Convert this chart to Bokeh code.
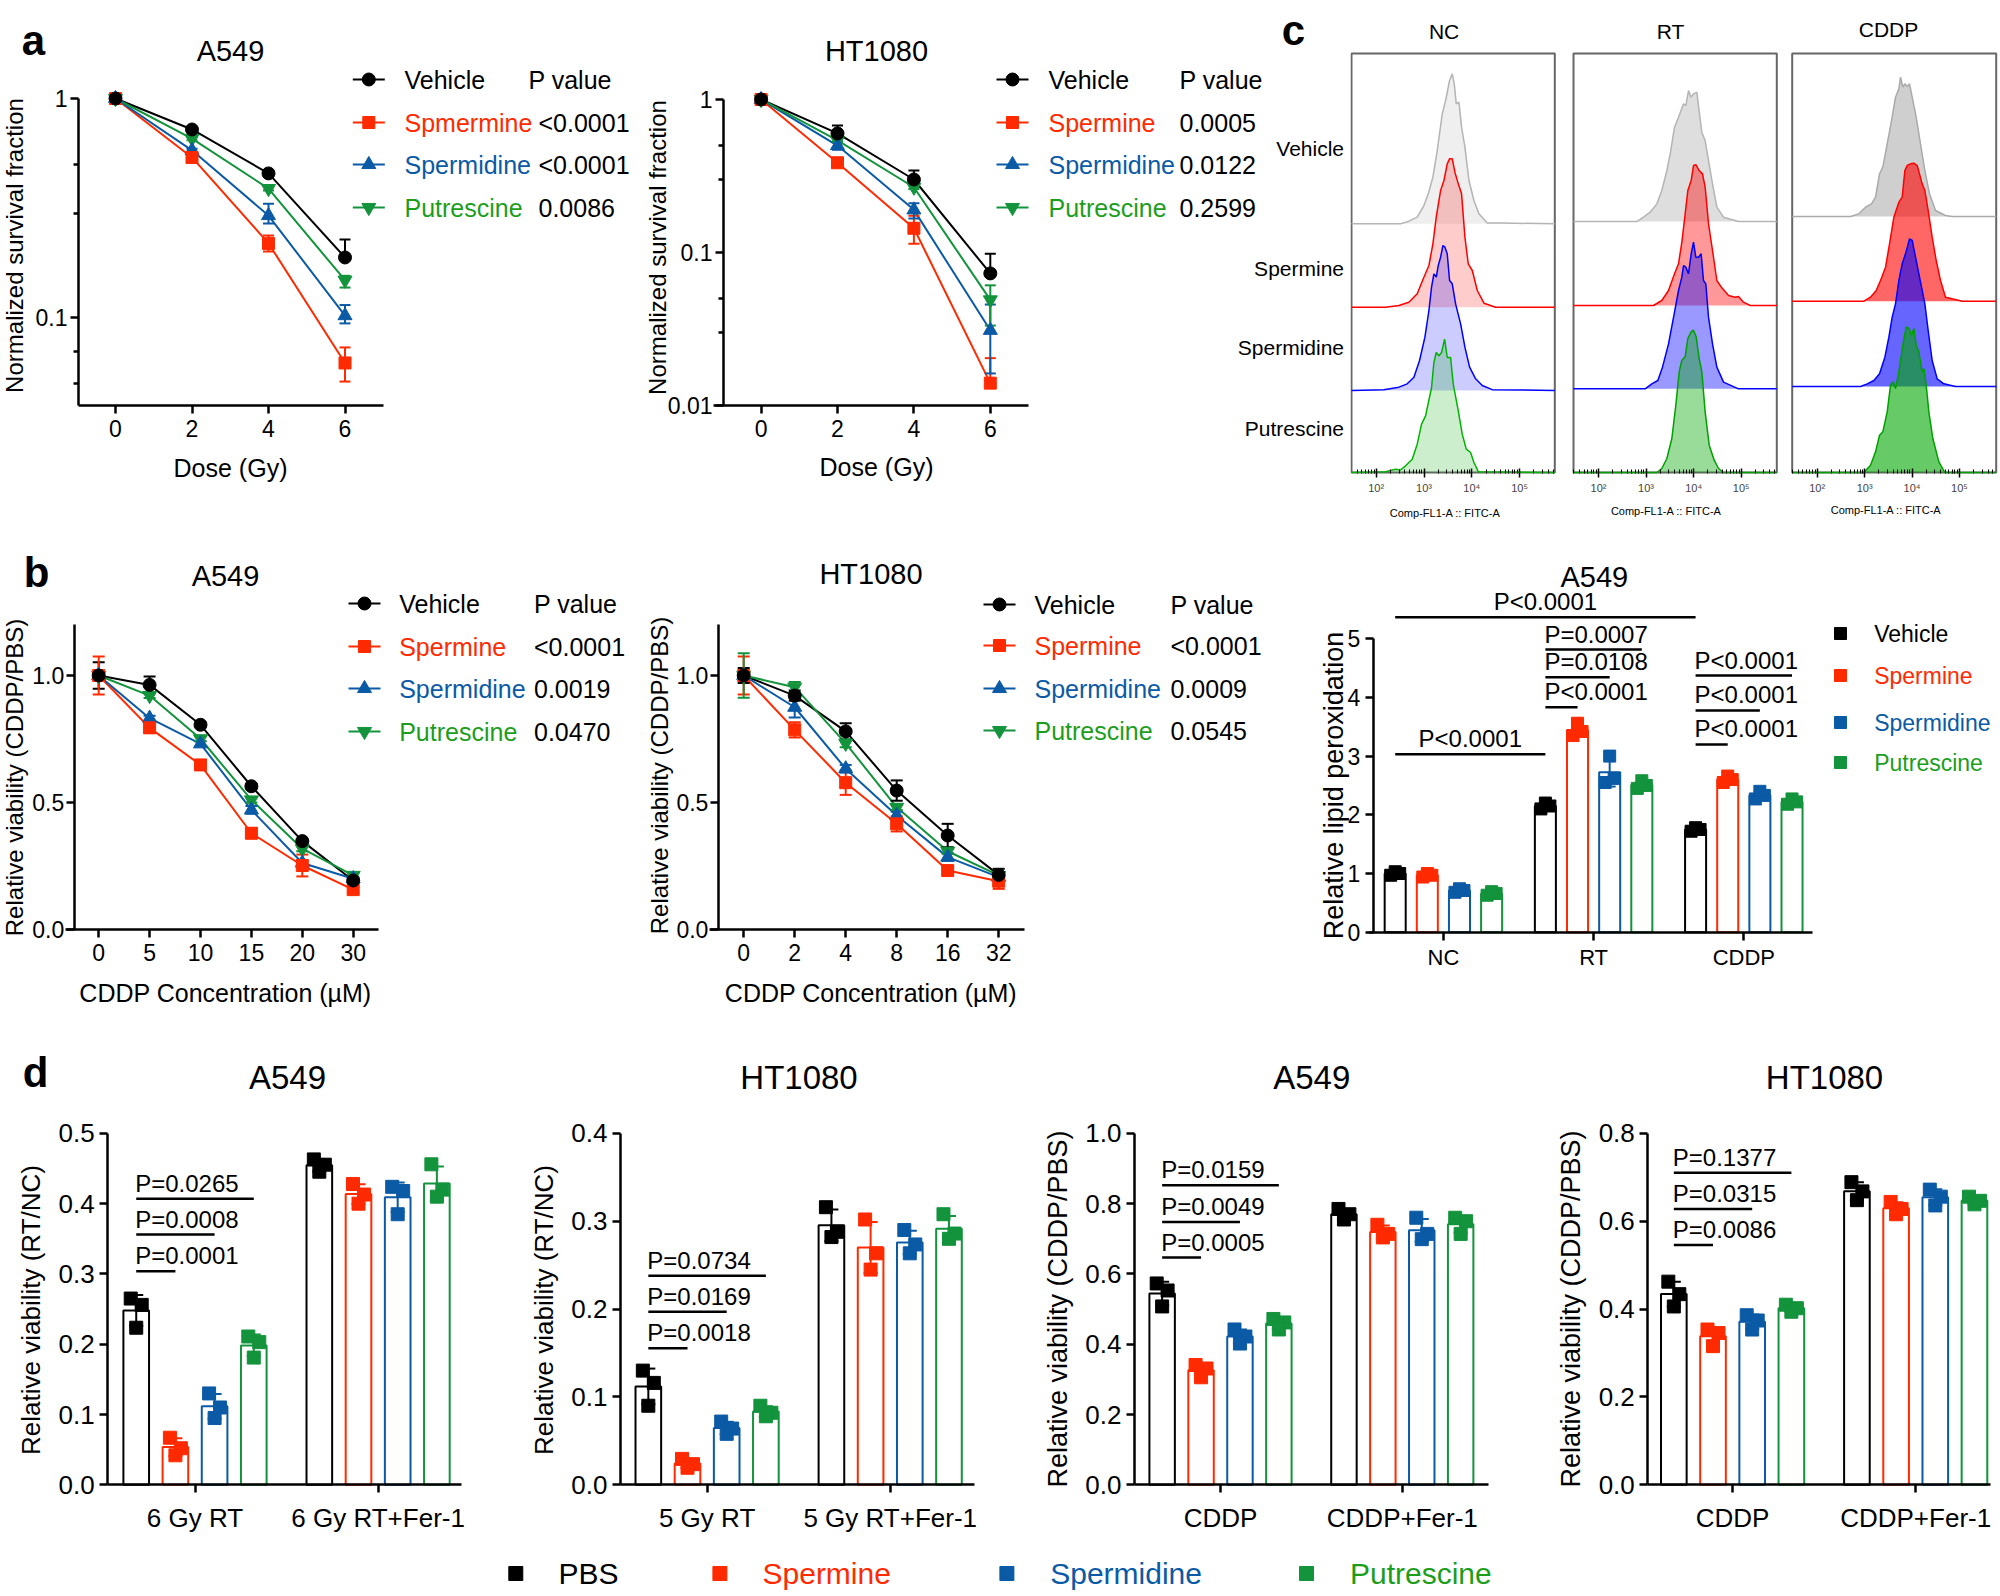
import math
import numpy as np
from bokeh.plotting import figure
from bokeh.layouts import row, column
from bokeh.models import Range1d, FixedTicker, CustomJSTickFormatter, NumeralTickFormatter
from bokeh.core.properties import value
from bokeh.embed import file_html
from bokeh.resources import INLINE

FONT = "Liberation Sans"
BLACK = "#000000"
RED = "#ff2a00"
BLUE = "#0b5aa5"
GREEN = "#12933c"
GREEN_TXT = "#1c9e1c"
COLORS = [BLACK, RED, BLUE, GREEN]
TXT_COLORS = [BLACK, RED, BLUE, GREEN_TXT]
MARKERS = ["circle", "square", "triangle", "inverted_triangle"]
MSIZES = [13, 12, 14, 14]

# ======================= DATA =======================
# ---- panel a : normalized survival fraction (log scale)
dose_gy = [0, 2, 4, 6]
a549_sf_vehicle = [1.0, 0.722, 0.455, 0.188]
a549_sf_vehicle_hi = [1.0, 0.735, 0.465, 0.227]
a549_sf_vehicle_lo = [1.0, 0.722, 0.455, 0.188]
a549_sf_spermine = [1.0, 0.538, 0.218, 0.062]
a549_sf_spermine_hi = [1.0, 0.550, 0.237, 0.073]
a549_sf_spermine_lo = [1.0, 0.525, 0.200, 0.051]
a549_sf_spermidine = [1.0, 0.580, 0.292, 0.102]
a549_sf_spermidine_hi = [1.0, 0.590, 0.331, 0.114]
a549_sf_spermidine_lo = [1.0, 0.570, 0.269, 0.094]
a549_sf_putrescine = [1.0, 0.656, 0.388, 0.148]
a549_sf_putrescine_hi = [1.0, 0.665, 0.395, 0.155]
a549_sf_putrescine_lo = [1.0, 0.645, 0.380, 0.137]
a549_sf_names = ["Vehicle", "Spmermine", "Spermidine", "Putrescine"]
a549_sf_p = ["<0.0001", "<0.0001", "0.0086"]

ht1080_sf_vehicle = [1.0, 0.600, 0.300, 0.073]
ht1080_sf_vehicle_hi = [1.03, 0.676, 0.343, 0.098]
ht1080_sf_vehicle_lo = [0.97, 0.600, 0.300, 0.073]
ht1080_sf_spermine = [1.0, 0.386, 0.144, 0.014]
ht1080_sf_spermine_hi = [1.03, 0.400, 0.174, 0.0204]
ht1080_sf_spermine_lo = [0.97, 0.370, 0.114, 0.0135]
ht1080_sf_spermidine = [1.0, 0.500, 0.190, 0.031]
ht1080_sf_spermidine_hi = [1.0, 0.530, 0.210, 0.0457]
ht1080_sf_spermidine_lo = [1.0, 0.470, 0.167, 0.0162]
ht1080_sf_putrescine = [1.0, 0.540, 0.267, 0.049]
ht1080_sf_putrescine_hi = [1.0, 0.550, 0.275, 0.061]
ht1080_sf_putrescine_lo = [0.96, 0.530, 0.260, 0.0333]
ht1080_sf_names = ["Vehicle", "Spermine", "Spermidine", "Putrescine"]
ht1080_sf_p = ["0.0005", "0.0122", "0.2599"]

# ---- panel b : relative viability vs CDDP concentration
cddp_a549_labels = ["0", "5", "10", "15", "20", "30"]
cddp_ht1080_labels = ["0", "2", "4", "8", "16", "32"]
b_a549_vehicle = [1.0, 0.963, 0.806, 0.564, 0.348, 0.193]
b_a549_vehicle_sd = [0.052, 0.033, 0.010, 0.010, 0.008, 0.008]
b_a549_spermine = [1.0, 0.794, 0.648, 0.379, 0.252, 0.157]
b_a549_spermine_sd = [0.075, 0.020, 0.015, 0.020, 0.043, 0.010]
b_a549_spermidine = [1.0, 0.832, 0.731, 0.471, 0.262, 0.200]
b_a549_spermidine_sd = [0.0, 0.010, 0.010, 0.015, 0.010, 0.008]
b_a549_putrescine = [1.0, 0.921, 0.751, 0.510, 0.318, 0.213]
b_a549_putrescine_sd = [0.0, 0.010, 0.010, 0.010, 0.010, 0.008]
b_a549_p = ["<0.0001", "0.0019", "0.0470"]

b_ht1080_vehicle = [1.0, 0.921, 0.780, 0.547, 0.370, 0.215]
b_ht1080_vehicle_sd = [0.030, 0.020, 0.032, 0.040, 0.046, 0.024]
b_ht1080_spermine = [1.0, 0.786, 0.578, 0.416, 0.232, 0.190]
b_ht1080_spermine_sd = [0.075, 0.030, 0.048, 0.030, 0.015, 0.030]
b_ht1080_spermidine = [1.0, 0.875, 0.633, 0.449, 0.285, 0.206]
b_ht1080_spermidine_sd = [0.0, 0.040, 0.015, 0.015, 0.015, 0.010]
b_ht1080_putrescine = [1.0, 0.954, 0.733, 0.481, 0.308, 0.213]
b_ht1080_putrescine_sd = [0.088, 0.020, 0.015, 0.010, 0.010, 0.010]
b_ht1080_p = ["<0.0001", "0.0009", "0.0545"]
b_names = ["Vehicle", "Spermine", "Spermidine", "Putrescine"]

# ---- lipid peroxidation (A549), three replicates per bar
lipid_groups = ["NC", "RT", "CDDP"]
lipid_vehicle = [[0.97, 1.00, 1.03], [2.10, 2.15, 2.20], [1.72, 1.75, 1.78]]
lipid_spermine = [[0.94, 0.97, 1.00], [3.35, 3.42, 3.56], [2.55, 2.60, 2.66]]
lipid_spermidine = [[0.68, 0.71, 0.74], [2.55, 2.62, 3.00], [2.27, 2.33, 2.40]]
lipid_putrescine = [[0.63, 0.66, 0.69], [2.45, 2.50, 2.58], [2.18, 2.22, 2.27]]
lipid_names = ["Vehicle", "Spermine", "Spermidine", "Putrescine"]
# (label, (group, bar) from, (group, bar) to, line level, text placement)
lipid_sig = [
    ("P<0.0001", (0, 0), (2, 0), 5.366, "center"),
    ("P<0.0001", (0, 0), (1, 0), 3.032, "center"),
    ("P=0.0007", (1, 0), (1, 3), 4.816, "left"),
    ("P=0.0108", (1, 0), (1, 2), 4.344, "left"),
    ("P<0.0001", (1, 0), (1, 1), 3.833, "left"),
    ("P<0.0001", (2, 0), (2, 3), 4.373, "left"),
    ("P<0.0001", (2, 0), (2, 2), 3.777, "left"),
    ("P<0.0001", (2, 0), (2, 1), 3.198, "left"),
]

# ---- panel c : flow cytometry histograms (log10 FITC, height in row units)
nc_vehicle_x = [2.51, 2.684, 2.858, 2.998, 3.089, 3.186, 3.277, 3.382, 3.452, 3.535, 3.591, 3.633, 3.675, 3.731, 3.786, 3.856, 3.94, 4.045, 4.149, 4.324, 4.638]
nc_vehicle_h = [0, 0.032, 0.08, 0.22, 0.36, 0.56, 0.88, 1.32, 1.48, 1.72, 1.80, 1.68, 1.44, 1.46, 1.16, 0.92, 0.52, 0.28, 0.12, 0.01, 0.01]
nc_spermine_x = [2.195, 2.475, 2.684, 2.858, 2.998, 3.103, 3.186, 3.256, 3.347, 3.417, 3.486, 3.535, 3.591, 3.647, 3.717, 3.786, 3.856, 3.926, 4.010, 4.115, 4.254, 4.498]
nc_spermine_h = [0, 0.02, 0.06, 0.16, 0.36, 0.5, 0.76, 1.08, 1.40, 1.52, 1.72, 1.78, 1.78, 1.62, 1.48, 1.36, 0.84, 0.52, 0.44, 0.2, 0.048, 0]
nc_spermidine_x = [2.16, 2.475, 2.649, 2.789, 2.907, 3.019, 3.103, 3.158, 3.207, 3.256, 3.298, 3.347, 3.396, 3.438, 3.486, 3.535, 3.591, 3.661, 3.766, 3.856, 3.954, 4.08, 4.219, 4.428]
nc_spermidine_h = [0.01, 0.04, 0.08, 0.16, 0.36, 0.64, 0.96, 1.24, 1.40, 1.36, 1.50, 1.60, 1.74, 1.72, 1.64, 1.32, 1.28, 1.04, 0.8, 0.52, 0.28, 0.14, 0.06, 0.01]
nc_putrescine_x = [2.195, 2.405, 2.51, 2.614, 2.754, 2.858, 2.949, 3.033, 3.158, 3.207, 3.256, 3.312, 3.368, 3.431, 3.486, 3.556, 3.612, 3.717, 3.800, 3.884, 3.975, 4.045, 4.135]
nc_putrescine_h = [0.01, 0.04, 0.03, 0.08, 0.16, 0.34, 0.58, 0.68, 1.02, 1.32, 1.44, 1.40, 1.44, 1.60, 1.38, 1.38, 1.06, 0.74, 0.46, 0.28, 0.24, 0.12, 0.01]

rt_vehicle_x = [2.806, 2.946, 3.086, 3.226, 3.331, 3.437, 3.507, 3.598, 3.682, 3.787, 3.836, 3.892, 3.948, 3.997, 4.067, 4.123, 4.172, 4.242, 4.313, 4.397, 4.488, 4.628, 4.943]
rt_vehicle_h = [0, 0.052, 0.112, 0.212, 0.372, 0.612, 0.812, 1.132, 1.252, 1.412, 1.392, 1.572, 1.492, 1.532, 1.552, 1.292, 1.072, 0.972, 0.732, 0.452, 0.172, 0.052, 0]
rt_spermine_x = [3.156, 3.331, 3.472, 3.598, 3.682, 3.752, 3.822, 3.878, 3.948, 3.997, 4.046, 4.116, 4.186, 4.242, 4.313, 4.397, 4.488, 4.593, 4.733, 4.873, 4.943, 5.048, 5.189]
rt_spermine_h = [0, 0.06, 0.18, 0.38, 0.5, 0.76, 1.10, 1.38, 1.50, 1.68, 1.69, 1.62, 1.58, 1.42, 0.98, 0.66, 0.30, 0.212, 0.12, 0.10, 0.108, 0.04, 0]
rt_spermidine_x = [2.981, 3.121, 3.247, 3.345, 3.472, 3.598, 3.682, 3.752, 3.787, 3.836, 3.892, 3.948, 3.997, 4.046, 4.102, 4.158, 4.207, 4.256, 4.313, 4.397, 4.488, 4.628, 4.943]
rt_spermidine_h = [0, 0.06, 0.10, 0.26, 0.54, 0.92, 1.18, 1.34, 1.48, 1.46, 1.38, 1.62, 1.76, 1.58, 1.58, 1.62, 1.30, 1.26, 0.86, 0.54, 0.26, 0.08, 0]
rt_putrescine_x = [3.226, 3.331, 3.437, 3.542, 3.626, 3.696, 3.752, 3.822, 3.878, 3.948, 3.997, 4.053, 4.116, 4.172, 4.242, 4.327, 4.432, 4.523, 4.628]
rt_putrescine_h = [0, 0.048, 0.168, 0.408, 0.808, 1.208, 1.348, 1.388, 1.608, 1.688, 1.708, 1.628, 1.368, 1.208, 0.728, 0.328, 0.148, 0.048, 0]

cddp_vehicle_x = [2.703, 2.878, 3.019, 3.145, 3.23, 3.314, 3.384, 3.476, 3.567, 3.651, 3.722, 3.757, 3.806, 3.848, 3.897, 3.947, 4.003, 4.087, 4.178, 4.27, 4.368, 4.495, 4.705, 4.846]
cddp_vehicle_h = [0, 0.032, 0.112, 0.152, 0.232, 0.512, 0.592, 0.872, 1.152, 1.432, 1.532, 1.672, 1.552, 1.592, 1.56, 1.592, 1.432, 1.192, 0.872, 0.552, 0.272, 0.072, 0.012, 0]
cddp_spermine_x = [2.984, 3.124, 3.244, 3.335, 3.441, 3.525, 3.616, 3.722, 3.792, 3.848, 3.897, 3.968, 4.038, 4.108, 4.157, 4.213, 4.27, 4.34, 4.424, 4.509, 4.6, 4.705, 4.846, 5.057]
cddp_spermine_h = [0, 0.048, 0.128, 0.248, 0.408, 0.688, 1.008, 1.188, 1.248, 1.568, 1.628, 1.648, 1.656, 1.628, 1.528, 1.408, 1.328, 1.088, 0.768, 0.488, 0.248, 0.048, 0.028, 0]
cddp_spermidine_x = [2.914, 3.054, 3.195, 3.314, 3.427, 3.511, 3.581, 3.651, 3.722, 3.792, 3.862, 3.947, 4.003, 4.059, 4.129, 4.2, 4.27, 4.34, 4.424, 4.53, 4.671, 4.916]
cddp_spermidine_h = [0, 0.032, 0.072, 0.152, 0.352, 0.592, 0.832, 0.992, 1.272, 1.472, 1.592, 1.772, 1.752, 1.592, 1.392, 1.192, 0.992, 0.672, 0.312, 0.092, 0.032, 0]
cddp_putrescine_x = [2.984, 3.124, 3.23, 3.314, 3.384, 3.476, 3.546, 3.595, 3.651, 3.722, 3.806, 3.876, 3.933, 3.989, 4.038, 4.087, 4.143, 4.213, 4.249, 4.298, 4.354, 4.438, 4.565, 4.691]
cddp_putrescine_h = [0, 0.088, 0.248, 0.448, 0.488, 0.728, 1.048, 1.088, 1.008, 1.208, 1.528, 1.748, 1.728, 1.648, 1.728, 1.528, 1.448, 1.208, 1.248, 1.048, 0.728, 0.408, 0.128, 0]
hist_row_labels = ["Vehicle", "Spermine", "Spermidine", "Putrescine"]
decade_labels = {2: "10²", 3: "10³", 4: "10⁴", 5: "10⁵"}

# ---- panel d : relative viability bars (3 replicates per bar)
d1_groups = ["6 Gy RT", "6 Gy RT+Fer-1"]
d1_pbs = [[0.265, 0.256, 0.2235], [0.463, 0.4555, 0.4455]]
d1_spermine = [[0.067, 0.052, 0.042], [0.428, 0.413, 0.400]]
d1_spermidine = [[0.130, 0.110, 0.095], [0.424, 0.418, 0.385]]
d1_putrescine = [[0.211, 0.203, 0.181], [0.456, 0.420, 0.410]]
d1_sig = [("P=0.0265", 3, 0.407), ("P=0.0008", 2, 0.356), ("P=0.0001", 1, 0.304)]

d2_groups = ["5 Gy RT", "5 Gy RT+Fer-1"]
d2_pbs = [[0.130, 0.116, 0.090], [0.316, 0.288, 0.282]]
d2_spermine = [[0.0295, 0.0235, 0.0194], [0.302, 0.2635, 0.245]]
d2_spermidine = [[0.072, 0.064, 0.058], [0.290, 0.2736, 0.2635]]
d2_putrescine = [[0.090, 0.082, 0.078], [0.308, 0.286, 0.280]]
d2_sig = [("P=0.0734", 3, 0.238), ("P=0.0169", 2, 0.197), ("P=0.0018", 1, 0.1554)]

d3_groups = ["CDDP", "CDDP+Fer-1"]
d3_pbs = [[0.573, 0.553, 0.5076], [0.785, 0.770, 0.755]]
d3_spermine = [[0.341, 0.331, 0.306], [0.740, 0.714, 0.704]]
d3_spermidine = [[0.442, 0.422, 0.402], [0.760, 0.714, 0.699]]
d3_putrescine = [[0.472, 0.462, 0.442], [0.760, 0.750, 0.714]]
d3_sig = [("P=0.0159", 3, 0.8527), ("P=0.0049", 2, 0.7476), ("P=0.0005", 1, 0.6468)]

d4_groups = ["CDDP", "CDDP+Fer-1"]
d4_pbs = [[0.4625, 0.434, 0.406], [0.689, 0.668, 0.648]]
d4_spermine = [[0.3535, 0.3455, 0.3157], [0.644, 0.628, 0.616]]
d4_spermidine = [[0.386, 0.374, 0.3535], [0.672, 0.656, 0.636]]
d4_putrescine = [[0.410, 0.402, 0.394], [0.656, 0.6465, 0.6385]]
d4_sig = [("P=0.1377", 3, 0.7104), ("P=0.0315", 2, 0.628), ("P=0.0086", 1, 0.5458)]
d_legend_names = ["PBS", "Spermine", "Spermidine", "Putrescine"]

# bar layout (style)
BAR_OFF = [-0.321, -0.107, 0.107, 0.321]
BAR_W = 0.14
JITTER = [-0.03, 0.03, 0.0]


# ======================= HELPERS =======================
def clean(p):
    p.grid.visible = False
    p.outline_line_color = None
    p.background_fill_color = "white"
    p.border_fill_color = "white"


def full_fig(W, H, xr, yr, ylog=False, yaxis=True):
    kw = {} if yaxis else {"y_axis_location": None}
    p = figure(width=W, height=H, x_range=xr, y_range=yr, title=None,
               y_axis_type="log" if ylog else "linear",
               output_backend="svg", toolbar_location=None,
               min_border_left=0, min_border_right=0, min_border_top=0, min_border_bottom=0, **kw)
    clean(p)
    return p


def style_axis(ax, size, standoff=4, lw=2.5, tick_out=8):
    ax.axis_line_color = "black"
    ax.axis_line_width = lw
    ax.major_tick_line_color = "black"
    ax.major_tick_line_width = lw
    ax.major_tick_in = 0
    ax.major_tick_out = tick_out
    ax.minor_tick_line_color = None
    ax.major_label_text_font = FONT
    ax.major_label_text_font_size = size
    ax.major_label_text_color = "black"
    ax.major_label_standoff = standoff


def put_text(p, x, y, s, size, color=BLACK, align="left", baseline="middle", bold=False, angle=0.0):
    p.text(x=[x], y=[y], text=[s], text_font=value(FONT), text_font_size=value(size),
           text_color=color, text_align=align, text_baseline=baseline, angle=angle,
           text_font_style="bold" if bold else "normal")


def err_bars(p, xs, lo, hi, color, cap, lw=2):
    p.segment(x0=xs, y0=lo, x1=xs, y1=hi, line_color=color, line_width=lw)
    p.segment(x0=[x - cap for x in xs], y0=hi, x1=[x + cap for x in xs], y1=hi, line_color=color, line_width=lw)
    p.segment(x0=[x - cap for x in xs], y0=lo, x1=[x + cap for x in xs], y1=lo, line_color=color, line_width=lw)


def mappers(cfg, ylog=False):
    x0, kx = cfg["xmap"]
    y0, ky = cfg["ymap"]
    fx = lambda px: (px - x0) / kx
    if ylog:
        fy = lambda py: 10 ** ((y0 - py) / ky)
    else:
        fy = lambda py: (y0 - py) / ky
    return fx, fy, kx, ky


def common_texts(p, cfg, fx, fy):
    tx0, ty0 = cfg["title_xy"]
    put_text(p, fx(tx0), fy(ty0), cfg["title"], cfg.get("title_size", "29px"), align="center")
    if cfg.get("xlabel"):
        lx, ly = cfg["xlabel_xy"]
        put_text(p, fx(lx), fy(ly), cfg["xlabel"], "25px", align="center")
    vx, vy = cfg["ylabel_xy"]
    put_text(p, fx(vx), fy(vy), cfg["ylabel"], cfg.get("ylabel_size", "24px"), align="center",
             angle=math.pi / 2)
    if cfg.get("letter"):
        s, (lx2, ly2) = cfg["letter"]
        put_text(p, fx(lx2), fy(ly2), s, "42px", align="center", bold=True)


def curve_panel(cfg, xs, series, names, pvals):
    fig_left, W, top, H = cfg["box"]
    ax_x, ax_y = cfg["axis_px"]
    ylog = cfg["log"]
    fx, fy, kx, ky = mappers(cfg, ylog)
    p = full_fig(W, H, Range1d(fx(fig_left), fx(fig_left + W)), Range1d(fy(top + H), fy(top)), ylog)
    style_axis(p.xaxis[0], "23px", standoff=6)
    style_axis(p.yaxis[0], "23px", standoff=cfg["ystandoff"])
    p.xaxis.fixed_location = fy(ax_y)
    p.yaxis.fixed_location = fx(ax_x)
    p.xaxis.bounds = (fx(cfg.get("xstart_px", ax_x)), cfg["xend"])
    p.yaxis.bounds = (fy(ax_y), cfg["ytop"])
    p.xaxis.ticker = FixedTicker(ticks=cfg["xticks"])
    if cfg.get("xlabels"):
        p.xaxis.major_label_overrides = {t: s for t, s in zip(cfg["xticks"], cfg["xlabels"])}
    p.yaxis.ticker = FixedTicker(ticks=cfg["yticks"], minor_ticks=cfg.get("yminor", []))
    if ylog:
        p.yaxis.formatter = CustomJSTickFormatter(code="return tick.toString();")
        p.yaxis.minor_tick_line_color = "black"
        p.yaxis.minor_tick_line_width = 2.5
        p.yaxis.minor_tick_out = 5
        p.yaxis.minor_tick_in = 0
    else:
        p.yaxis.formatter = NumeralTickFormatter(format="0.0")
    cap = cfg["cap"] / 2 / kx
    for (vals, lo, hi), c in zip(series, COLORS):
        p.line(xs, vals, line_color=c, line_width=2)
    for (vals, lo, hi), c in zip(series, COLORS):
        err_bars(p, xs, lo, hi, c, cap)
    for i in [3, 2, 1, 0]:
        p.scatter(xs, series[i][0], marker=MARKERS[i], size=MSIZES[i],
                  fill_color=COLORS[i], line_color=COLORS[i])
    # legend with P values
    mx, tx, px_, hx = cfg["leg_x"]
    for i, name in enumerate(names):
        yy = fy(cfg["leg_rows"][i])
        p.segment(x0=[fx(mx - 16)], y0=[yy], x1=[fx(mx + 16)], y1=[yy], line_color=COLORS[i], line_width=2)
        p.scatter([fx(mx)], [yy], marker=MARKERS[i], size=MSIZES[i], fill_color=COLORS[i], line_color=COLORS[i])
        put_text(p, fx(tx), yy, name, "25px", TXT_COLORS[i])
        if i > 0:
            put_text(p, fx(px_), yy, pvals[i - 1], "25px")
    put_text(p, fx(hx), fy(cfg["leg_rows"][0]), "P value", "25px")
    common_texts(p, cfg, fx, fy)
    return p, fx, fy


def bar_panel(cfg, groups, series_pts, sig):
    fig_left, W, top, H = cfg["box"]
    ax_x, ax_y = cfg["axis_px"]
    fx, fy, kx, ky = mappers(cfg)
    p = full_fig(W, H, Range1d(fx(fig_left), fx(fig_left + W)), Range1d(fy(top + H), fy(top)))
    style_axis(p.xaxis[0], cfg["xtick_size"], standoff=cfg["xstandoff"])
    style_axis(p.yaxis[0], cfg["ytick_size"], standoff=5)
    p.xaxis.fixed_location = 0
    p.yaxis.fixed_location = fx(ax_x)
    p.xaxis.bounds = (fx(cfg.get("xstart_px", ax_x)), cfg["xend"])
    p.yaxis.bounds = (0, cfg["ytop"])
    p.xaxis.ticker = FixedTicker(ticks=list(range(len(groups))))
    p.xaxis.major_label_overrides = {i: g for i, g in enumerate(groups)}
    p.yaxis.ticker = FixedTicker(ticks=cfg["yticks"])
    p.yaxis.formatter = NumeralTickFormatter(format=cfg["yfmt"])
    cap = cfg["cap"] / 2 / kx
    for s, pts in enumerate(series_pts):
        xs = [g + BAR_OFF[s] for g in range(len(pts))]
        means = [float(np.mean(v)) for v in pts]
        sds = [float(np.std(v, ddof=1)) for v in pts]
        p.vbar(x=xs, top=means, width=BAR_W, bottom=0, fill_color="white",
               line_color=COLORS[s], line_width=2)
        err_bars(p, xs, [m - d for m, d in zip(means, sds)], [m + d for m, d in zip(means, sds)],
                 COLORS[s], cap)
        jx, jy = [], []
        for g, v in enumerate(pts):
            for k, yv in enumerate(v):
                jx.append(g + BAR_OFF[s] + JITTER[k])
                jy.append(yv)
        p.scatter(jx, jy, marker="square", size=cfg["msize"], fill_color=COLORS[s], line_color=COLORS[s])
    # significance bars
    gap = 2.0 / ky
    for label, (g0, s0), (g1, s1), yl, mode in sig:
        xa = g0 + BAR_OFF[s0]
        xb = g1 + BAR_OFF[s1]
        p.segment(x0=[xa], y0=[yl], x1=[xb], y1=[yl], line_color=BLACK, line_width=2.5)
        if mode == "center":
            put_text(p, (xa + xb) / 2, yl + gap, label, cfg["sig_size"], align="center", baseline="bottom")
        else:
            put_text(p, xa - 1.0 / kx, yl + gap, label, cfg["sig_size"], align="left", baseline="bottom")
    common_texts(p, cfg, fx, fy)
    return p, fx, fy


def hist_panel(cfg, curves, offsets, lines, alphas):
    fig_left, W = cfg["fig"]
    box_l, box_r = cfg["box_x"]
    x0_px, ppd = cfg["xmap"]
    top, H = 0, 525
    box_top, base_py, unit = 53.0, 472.0, 83.33
    fx = lambda px: 2 + (px - x0_px) / ppd
    fy = lambda py: (base_py - py) / unit
    p = full_fig(W, H, Range1d(fx(fig_left), fx(fig_left + W)), Range1d(fy(top + H), fy(top)), yaxis=False)
    bl, br = fx(box_l), fx(box_r)
    p.quad(left=[bl], right=[br], bottom=[0], top=[fy(box_top)], fill_color=None,
           line_color="#666666", line_width=2)
    fills = ["#a0a0a0", "#ff0000", "#0000ff", "#00a800"]
    for (xs, hs), off, fc, lc, a in zip(curves, offsets, fills, lines, alphas):
        xx = [bl] + list(xs) + [br]
        yy = [off] + [off + h for h in hs] + [off]
        p.patch(xx, yy, fill_color=fc, fill_alpha=a, line_color=None)
        p.line(xx, yy, line_color=lc, line_width=1.5)
    ax = p.xaxis[0]
    ax.fixed_location = 0
    ax.bounds = (bl, br)
    ax.axis_line_color = None
    ax.major_tick_line_color = "black"
    ax.major_tick_line_width = 1.5
    ax.major_tick_in = 4
    ax.major_tick_out = 5
    ax.minor_tick_line_color = "black"
    ax.minor_tick_line_width = 1
    ax.minor_tick_in = 3
    ax.minor_tick_out = 1
    minor = [math.log10(k * 10 ** d) for d in range(1, 6) for k in range(2, 10)]
    minor = [m for m in minor if bl < m < br]
    ax.ticker = FixedTicker(ticks=[2, 3, 4, 5], minor_ticks=minor)
    ax.major_label_overrides = decade_labels
    ax.major_label_text_font = FONT
    ax.major_label_text_font_size = "11px"
    ax.major_label_standoff = 4
    tx, ty = cfg["title_xy"]
    put_text(p, fx(tx), fy(ty), cfg["title"], "21px", align="center")
    lx, ly = cfg["xlabel_xy"]
    put_text(p, fx(lx), fy(ly), "Comp-FL1-A :: FITC-A", "11px", align="center")
    return p


# ======================= ROW 1 =======================
cfg_a1 = dict(box=(0, 640, 0, 525), axis_px=(78.0, 405.0), xmap=(115.0, 38.25), ymap=(98.0, 219.0), log=True,
              xend=7.0, ytop=1.0, xticks=[0, 2, 4, 6], yticks=[0.1, 1.0], yminor=[0.05, 0.07, 0.3, 0.5],
              ystandoff=3, cap=11, leg_x=(368.3, 404.0, 538.0, 528.0), leg_rows=[79, 122, 164, 207],
              title="A549", title_xy=(230, 50), xlabel="Dose (Gy)", xlabel_xy=(230, 467),
              ylabel="Normalized survival fraction", ylabel_xy=(14, 245), letter=("a", (33, 40)))
fa1, _, _ = curve_panel(cfg_a1, dose_gy,
                        [(a549_sf_vehicle, a549_sf_vehicle_lo, a549_sf_vehicle_hi),
                         (a549_sf_spermine, a549_sf_spermine_lo, a549_sf_spermine_hi),
                         (a549_sf_spermidine, a549_sf_spermidine_lo, a549_sf_spermidine_hi),
                         (a549_sf_putrescine, a549_sf_putrescine_lo, a549_sf_putrescine_hi)],
                        a549_sf_names, a549_sf_p)

cfg_a2 = dict(box=(640, 710, 0, 525), axis_px=(723.0, 405.0), xstart_px=713.0, xmap=(760.6, 38.2),
              ymap=(99.0, 153.0), log=True,
              xend=7.0, ytop=1.0, xticks=[0, 2, 4, 6], yticks=[0.01, 0.1, 1.0], yminor=[0.03, 0.05, 0.3, 0.5],
              ystandoff=3, cap=11, leg_x=(1012.0, 1048.0, 1179.0, 1179.0), leg_rows=[79, 122, 164, 207],
              title="HT1080", title_xy=(876, 50), xlabel="Dose (Gy)", xlabel_xy=(876, 466),
              ylabel="Normalized survival fraction", ylabel_xy=(657, 247), letter=("c", (1293, 30)))
fa2, fx_a2, fy_a2 = curve_panel(cfg_a2, dose_gy,
                                [(ht1080_sf_vehicle, ht1080_sf_vehicle_lo, ht1080_sf_vehicle_hi),
                                 (ht1080_sf_spermine, ht1080_sf_spermine_lo, ht1080_sf_spermine_hi),
                                 (ht1080_sf_spermidine, ht1080_sf_spermidine_lo, ht1080_sf_spermidine_hi),
                                 (ht1080_sf_putrescine, ht1080_sf_putrescine_lo, ht1080_sf_putrescine_hi)],
                                ht1080_sf_names, ht1080_sf_p)
# row labels of the flow histograms (panel c), placed left of the NC box
for name, py in zip(hist_row_labels, [147.7, 268.1, 346.5, 427.7]):
    put_text(fa2, fx_a2(1343.5), fy_a2(py), name, "21px", align="right")

fnc = hist_panel(dict(fig=(1350, 214), box_x=(1351.0, 1554.3), xmap=(1375.7, 47.8), title="NC",
                      title_xy=(1443.6, 31), xlabel_xy=(1444.6, 512)),
                 [(nc_vehicle_x, nc_vehicle_h), (nc_spermine_x, nc_spermine_h),
                  (nc_spermidine_x, nc_spermidine_h), (nc_putrescine_x, nc_putrescine_h)],
                 [2.984, 1.984, 0.984, 0.0], ["#b4b4b4", "#ff0000", "#0000ff", "#00b400"],
                 [0.17, 0.2, 0.2, 0.2])
frt = hist_panel(dict(fig=(1564, 222), box_x=(1573.0, 1776.3), xmap=(1598.0, 47.57), title="RT",
                      title_xy=(1670.0, 31), xlabel_xy=(1665.7, 510)),
                 [(rt_vehicle_x, rt_vehicle_h), (rt_spermine_x, rt_spermine_h),
                  (rt_spermidine_x, rt_spermidine_h), (rt_putrescine_x, rt_putrescine_h)],
                 [3.012, 2.004, 1.004, 0.0], ["#b4b4b4", "#ff0000", "#0000ff", "#00a000"],
                 [0.35, 0.4, 0.4, 0.4])
fcd = hist_panel(dict(fig=(1786, 214), box_x=(1791.7, 1995.7), xmap=(1816.7, 47.43), title="CDDP",
                      title_xy=(1888.0, 29), xlabel_xy=(1885.5, 509)),
                 [(cddp_vehicle_x, cddp_vehicle_h), (cddp_spermine_x, cddp_spermine_h),
                  (cddp_spermidine_x, cddp_spermidine_h), (cddp_putrescine_x, cddp_putrescine_h)],
                 [3.072, 2.056, 1.032, 0.0], ["#aaaaaa", "#ff0000", "#0000ff", "#00a000"],
                 [0.5, 0.6, 0.6, 0.6])


# ======================= ROW 2 =======================
def sd_series(vals, sds):
    return (vals, [v - s for v, s in zip(vals, sds)], [v + s for v, s in zip(vals, sds)])


idx6 = list(range(6))
cfg_b1 = dict(box=(0, 640, 525, 505), axis_px=(73.7, 929.0), xstart_px=64.7, xmap=(98.2, 50.9),
              ymap=(929.0, 254.0), log=False,
              xend=5.5, ytop=1.2, xticks=idx6, xlabels=cddp_a549_labels, yticks=[0.0, 0.5, 1.0],
              ystandoff=2, cap=12, leg_x=(364.0, 398.7, 533.5, 533.5), leg_rows=[603, 646, 688, 731],
              title="A549", title_xy=(225, 575), xlabel="CDDP Concentration (µM)", xlabel_xy=(225, 992),
              ylabel="Relative viability (CDDP/PBS)", ylabel_xy=(14, 777), letter=("b", (36, 572)))
fb1, _, _ = curve_panel(cfg_b1, idx6,
                        [sd_series(b_a549_vehicle, b_a549_vehicle_sd),
                         sd_series(b_a549_spermine, b_a549_spermine_sd),
                         sd_series(b_a549_spermidine, b_a549_spermidine_sd),
                         sd_series(b_a549_putrescine, b_a549_putrescine_sd)],
                        b_names, b_a549_p)

cfg_b2 = dict(box=(640, 660, 525, 505), axis_px=(717.9, 929.0), xstart_px=708.8, xmap=(743.2, 51.0),
              ymap=(929.0, 254.0), log=False,
              xend=5.5, ytop=1.2, xticks=idx6, xlabels=cddp_ht1080_labels, yticks=[0.0, 0.5, 1.0],
              ystandoff=2, cap=12, leg_x=(999.0, 1034.0, 1170.0, 1170.0), leg_rows=[604, 645, 688, 730],
              title="HT1080", title_xy=(870.5, 573), xlabel="CDDP Concentration (µM)", xlabel_xy=(870.5, 992),
              ylabel="Relative viability (CDDP/PBS)", ylabel_xy=(659, 775))
fb2, _, _ = curve_panel(cfg_b2, idx6,
                        [sd_series(b_ht1080_vehicle, b_ht1080_vehicle_sd),
                         sd_series(b_ht1080_spermine, b_ht1080_spermine_sd),
                         sd_series(b_ht1080_spermidine, b_ht1080_spermidine_sd),
                         sd_series(b_ht1080_putrescine, b_ht1080_putrescine_sd)],
                        b_names, b_ht1080_p)

cfg_lip = dict(box=(1300, 700, 525, 505), axis_px=(1372.8, 931.7), xstart_px=1369.0, xmap=(1442.9, 150.2),
               ymap=(931.7, 58.7),
               xend=2.46, ytop=5, yticks=[0, 1, 2, 3, 4, 5], yfmt="0", xtick_size="22px", ytick_size="23px",
               xstandoff=5, cap=12, msize=12, sig_size="24px", title="A549", title_xy=(1593.8, 576.7),
               title_size="29px", ylabel="Relative lipid peroxidation", ylabel_xy=(1333.5, 785),
               ylabel_size="27px")
flip, fx_l, fy_l = bar_panel(cfg_lip, lipid_groups,
                             [lipid_vehicle, lipid_spermine, lipid_spermidine, lipid_putrescine], lipid_sig)
for i, (name, py) in enumerate(zip(lipid_names, [633, 675, 722, 762])):
    flip.scatter([fx_l(1840)], [fy_l(py)], marker="square", size=12, fill_color=COLORS[i], line_color=COLORS[i])
    put_text(flip, fx_l(1873.7), fy_l(py), name, "23px", TXT_COLORS[i])


# ======================= ROW 3 =======================
def d_sig(sig):
    return [(lab, (0, 0), (0, k), y, "left") for lab, k, y in sig]


common_d = dict(xtick_size="26px", ytick_size="26px", xstandoff=10, cap=14, msize=13, sig_size="24px",
                title_size="33px")
cfg_d1 = dict(common_d, box=(0, 505, 1030, 520), axis_px=(107.1, 1484.3), xmap=(194.5, 183.1),
              ymap=(1484.3, 702.8), xend=1.4528, ytop=0.5, yticks=[0.0, 0.1, 0.2, 0.3, 0.4, 0.5], yfmt="0.0",
              title="A549", title_xy=(287, 1077), ylabel="Relative viability (RT/NC)",
              ylabel_xy=(30.6, 1309.5), ylabel_size="26px", letter=("d", (35, 1072)))
fd1, _, _ = bar_panel(cfg_d1, d1_groups, [d1_pbs, d1_spermine, d1_spermidine, d1_putrescine], d_sig(d1_sig))

cfg_d2 = dict(common_d, box=(505, 515, 1030, 520), axis_px=(619.9, 1484.3), xmap=(706.6, 183.1),
              ymap=(1484.3, 878.5), xend=1.463, ytop=0.4, yticks=[0.0, 0.1, 0.2, 0.3, 0.4], yfmt="0.0",
              title="HT1080", title_xy=(798.5, 1077), ylabel="Relative viability (RT/NC)",
              ylabel_xy=(543.4, 1309.5), ylabel_size="26px")
fd2, _, _ = bar_panel(cfg_d2, d2_groups, [d2_pbs, d2_spermine, d2_spermidine, d2_putrescine], d_sig(d2_sig))

cfg_d3 = dict(common_d, box=(1020, 510, 1030, 520), axis_px=(1133.9, 1484.3), xmap=(1220.0, 181.8),
              ymap=(1484.3, 351.4), xend=1.4736, ytop=1.0, yticks=[0.0, 0.2, 0.4, 0.6, 0.8, 1.0], yfmt="0.0",
              title="A549", title_xy=(1311.2, 1077), ylabel="Relative viability (CDDP/PBS)",
              ylabel_xy=(1057.4, 1308.5), ylabel_size="27px")
fd3, _, _ = bar_panel(cfg_d3, d3_groups, [d3_pbs, d3_spermine, d3_spermidine, d3_putrescine], d_sig(d3_sig))

cfg_d4 = dict(common_d, box=(1530, 470, 1030, 520), axis_px=(1647.3, 1484.3), xmap=(1732.1, 183.1),
              ymap=(1484.3, 439.25), xend=1.41, ytop=0.8, yticks=[0.0, 0.2, 0.4, 0.6, 0.8], yfmt="0.0",
              title="HT1080", title_xy=(1824, 1077), ylabel="Relative viability (CDDP/PBS)",
              ylabel_xy=(1570.8, 1308.5), ylabel_size="27px")
fd4, _, _ = bar_panel(cfg_d4, d4_groups, [d4_pbs, d4_spermine, d4_spermidine, d4_putrescine], d_sig(d4_sig))

# ======================= ROW 4 : legend of panel d =======================
fleg = figure(width=2000, height=44, x_range=Range1d(0, 2000), y_range=Range1d(1594, 1550), title=None,
              output_backend="svg", toolbar_location=None, x_axis_location=None, y_axis_location=None,
              min_border_left=0, min_border_right=0, min_border_top=0, min_border_bottom=0)
clean(fleg)
for i, (name, sx, tx) in enumerate(zip(d_legend_names, [515.3, 719.4, 1006.4, 1306.0],
                                       [558.0, 762.0, 1049.7, 1349.5])):
    fleg.scatter([sx], [1573], marker="square", size=14, fill_color=COLORS[i], line_color=COLORS[i])
    put_text(fleg, tx, 1573, name, "30px", TXT_COLORS[i])

layout = column(row(fa1, fa2, fnc, frt, fcd),
                row(fb1, fb2, flip),
                row(fd1, fd2, fd3, fd4),
                fleg)

open("out.html", "w").write(file_html(layout, INLINE, title="Polyamines figure"))
